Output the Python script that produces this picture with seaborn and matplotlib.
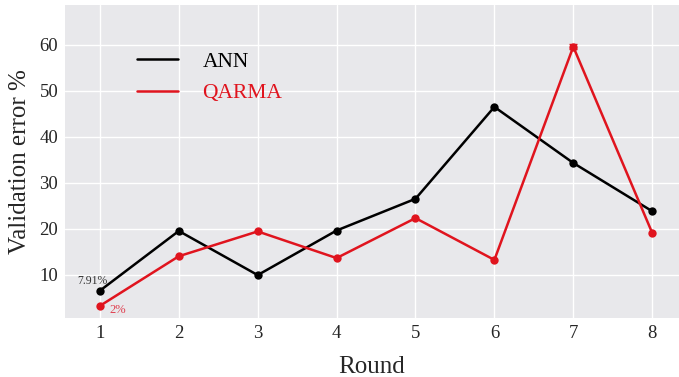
import matplotlib
matplotlib.use("Agg")
import matplotlib.pyplot as plt
import seaborn as sns
import pandas as pd

rounds = [1, 2, 3, 4, 5, 6, 7, 8]
ann = [6.5, 19.5, 9.9, 19.6, 26.5, 46.5, 34.3, 23.8]
qarma = [3.2, 14.0, 19.4, 13.6, 22.3, 13.2, 59.6, 19.1]
qarma_err7 = 0.5

df = pd.DataFrame({
    "Round": rounds * 2,
    "err": ann + qarma,
    "Model": ["ANN"] * len(rounds) + ["QARMA"] * len(rounds),
})

sns.set_theme(style="darkgrid")
plt.rcParams["font.family"] = ["Liberation Serif", "DejaVu Serif"]
plt.rcParams["axes.facecolor"] = "#e8e8eb"

fig = plt.figure(figsize=(6.79, 3.77), dpi=100)
ax = fig.add_axes([0.096, 0.157, 0.904, 0.83])

palette = {"ANN": "black", "QARMA": "#e0141e"}
sns.lineplot(data=df, x="Round", y="err", hue="Model", palette=palette,
             marker="o", markersize=6, markeredgewidth=0, linewidth=1.8, ax=ax)
ax.errorbar([rounds[6]], [qarma[6]], yerr=qarma_err7, color="#e0141e",
            capsize=3, linewidth=1.2, fmt="none")

ax.annotate("7.91%", (rounds[0], ann[0]), xytext=(-16, 5), textcoords="offset points",
            fontsize=8.5, color="#333333")
ax.annotate("2%", (rounds[0], qarma[0]), xytext=(7, -5), textcoords="offset points",
            fontsize=9, color="#e04050")

ax.set_xlim(0.56, 8.34)
ax.set_ylim(0.6, 68.7)
ax.set_xticks(rounds)
ax.set_yticks([10, 20, 30, 40, 50, 60])
ax.tick_params(axis="x", labelsize=13.5, pad=5, length=0)
ax.tick_params(axis="y", labelsize=13.5, pad=5, length=0)
ax.set_xlabel("Round", fontsize=18, labelpad=10)
ax.set_ylabel("Validation error %", fontsize=18, labelpad=6)
for s in ax.spines.values():
    s.set_visible(False)

leg = ax.legend(loc="upper left", bbox_to_anchor=(0.085, 0.913), frameon=False,
                fontsize=15.5, handlelength=1.9, handletextpad=1.15, labelspacing=0.55)
for line in leg.get_lines():
    line.set_marker("")
    line.set_linewidth(1.8)
for txt, c in zip(leg.get_texts(), ["black", "#e0141e"]):
    txt.set_color(c)

fig.savefig("out.png", dpi=100)
